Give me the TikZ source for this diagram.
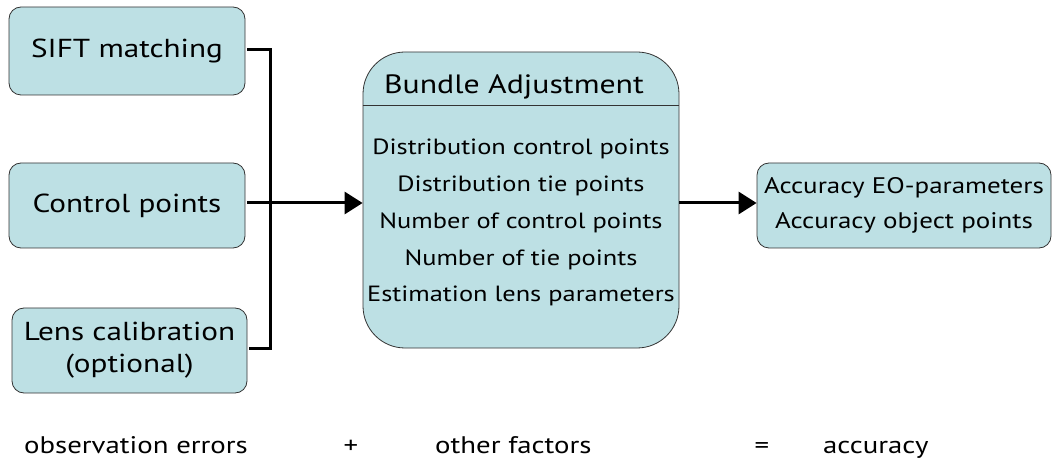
\documentclass[tikz,border=0pt]{standalone}
\usepackage{fontspec}
\setmainfont{PT Sans}[FakeStretch=1.2]
\usetikzlibrary{arrows.meta}
\definecolor{boxfill}{RGB}{189,224,228}
\begin{document}
\begin{tikzpicture}[x=1pt,y=-1pt,
  box/.style={draw=black!80, line width=0.8pt, fill=boxfill, rounded corners=12pt, align=center, inner sep=0pt, font=\fontsize{26}{32}\selectfont},
  conn/.style={line width=3pt},
  arr/.style={line width=3pt, -{Triangle[length=18pt,width=22pt]}},
  txt/.style={font=\fontsize{24}{29}\selectfont, inner sep=0pt}]
\useasboundingbox (0,0) rectangle (1052,462);
\node[box, minimum width=236pt, minimum height=88pt] (sift) at (127,51) {SIFT matching};
\node[box, minimum width=236pt, minimum height=85pt] (cp) at (127,205.5) {Control points};
\node[box, minimum width=235pt, minimum height=85pt] (lens) at (129.5,350.5) {Lens calibration\\(optional)};
\node[box, rounded corners=42pt, minimum width=316pt, minimum height=296pt] (ba) at (521,200) {};
\draw[black!80, line width=0.8pt] (ba.west |- 0,105) coordinate (sepl) -- (ba.east |- 0,105) coordinate (sepr);
\node[font=\fontsize{26.5}{32}\selectfont, anchor=base] (title) at (514,94) {Bundle Adjustment};
\node[align=center, anchor=north, font=\fontsize{22}{36.75}\selectfont, inner sep=0pt] (list) at (521,139) {Distribution control points\\Distribution tie points\\Number of control points\\Number of tie points\\Estimation lens parameters};
\node[box, minimum width=294pt, minimum height=85pt, font=\fontsize{22.5}{35}\selectfont] (out) at (904,205.5) {Accuracy EO-parameters\\Accuracy object points};
\coordinate (j) at (270,203);
\draw[conn] ([xshift=2pt]sift.east |- 0,50) -- (j |- 0,50) -- (j |- 0,348) -- ([xshift=2pt]lens.east |- 0,348);
\draw[arr] ([xshift=2pt]cp.east |- j) -- (ba.west |- j);
\draw[arr] (ba.east |- j) -- (out.west |- j);
\node[txt, anchor=base west] (obs) at (24,453) {observation errors};
\node[txt, anchor=base] (plus) at (351,453) {+};
\node[txt, anchor=base west] (oth) at (435,453) {other factors};
\node[txt, anchor=base] (eq) at (762,453) {=};
\node[txt, anchor=base west] (acc) at (823,453) {accuracy};
\end{tikzpicture}
\end{document}
